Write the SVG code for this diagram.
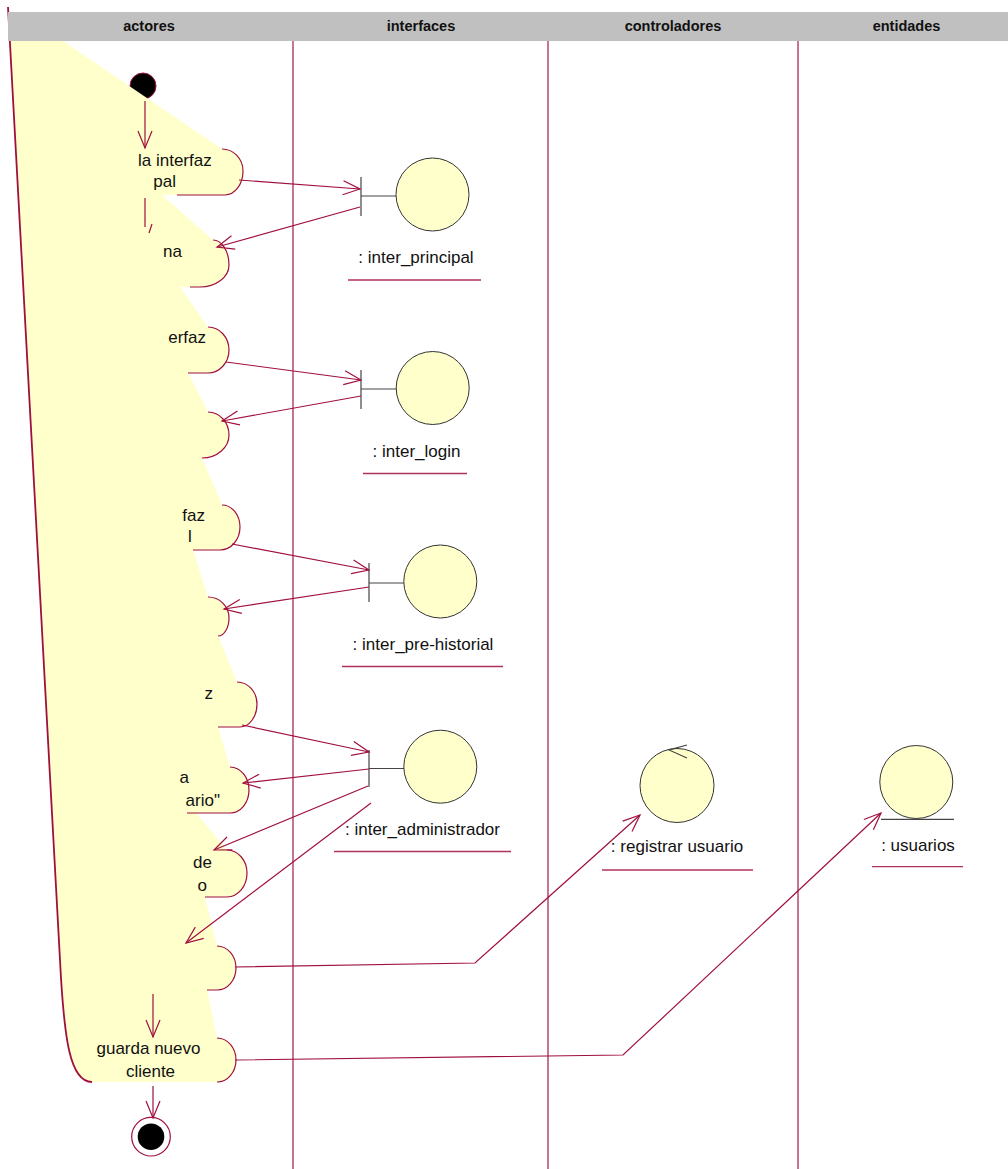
<svg xmlns="http://www.w3.org/2000/svg" width="1008" height="1169" viewBox="0 0 1008 1169">
<style>
.lane{stroke:#B5466E;stroke-width:1.5;fill:none}
.hdr{font-family:"Liberation Sans",Arial,sans-serif;font-size:14.5px;font-weight:bold;fill:#111;text-anchor:middle}
.t{font-family:"Liberation Sans",Arial,sans-serif;font-size:17px;fill:#111}
.m{text-anchor:middle}
.e{text-anchor:end}
.bump{fill:#FFFFCC;stroke:#A0103F;stroke-width:1.2}
.bl{stroke:#A0103F;stroke-width:1.2;fill:none}
.obj{fill:#FFFFCC;stroke:#333;stroke-width:1}
.stem{stroke:#444;stroke-width:1.2;fill:none}
.ul{stroke:#B0305E;stroke-width:1.3}
.c{stroke:#A0103F;stroke-width:1.2;fill:none}
.ca{stroke:#A0103F;stroke-width:1.2;fill:none;marker-end:url(#open)}
</style>
<defs>
<marker id="open" markerUnits="userSpaceOnUse" viewBox="-19 -9 21 18" markerWidth="21" markerHeight="18" refX="0" refY="0" orient="auto">
<path d="M-17,-7 L0,0 L-17,7" fill="none" stroke="#A0103F" stroke-width="1.2"/>
</marker>
</defs>
<rect x="0" y="0" width="1008" height="1169" fill="#fff"/>
<g id="lanes">
<line class="lane" x1="293" y1="41" x2="293" y2="1169"/>
<line class="lane" x1="548" y1="41" x2="548" y2="1169"/>
<line class="lane" x1="798" y1="41" x2="798" y2="1169"/>
</g>
<g id="initial">
<circle cx="143" cy="86" r="13" fill="#000" stroke="#A0103F" stroke-width="1"/>
</g>
<g id="actor-lane-fill">
<path fill="#FFFFCC" d="M10,41 L63,41 L222,149 A21,22 0 0 1 243,171 A18,24 0 0 1 225,195 L162,195 L213,240 A16,25 0 0 1 229,265 A29,22 0 0 1 200,287 L180,287 L208,327 A21,23 0 0 1 229,350 A21,23 0 0 1 208,373 L188,373 L208,412 A21,23 0 0 1 229,435 A27,23 0 0 1 202,458 L222,505 A18,22 0 0 1 240,527 A20,23 0 0 1 220,550 L193,550 L208,597 A21,21 0 0 1 229,618 A11,18 0 0 1 218,636 L237,682 A20,22 0 0 1 257,704 A17,23 0 0 1 240,727 L218,727 L230,767 A19,23 0 0 1 249,790 A19,23 0 0 1 230,813 L196,813 L227,850 A20,23 0 0 1 247,873 A20,24 0 0 1 227,897 L205,897 L217,946 A19,22 0 0 1 236,968 A19,22 0 0 1 217,990 L207,990 L217,1038 A19,22 0 0 1 236,1060 A19,22 0 0 1 217,1082 L92,1082 C70,1082 64,1040 60,960 Z"/>
<path d="M8,7 L60,960 C64,1040 70,1082 92,1082" fill="none" stroke="#A0103F" stroke-width="1.8"/>
</g>
<g id="act1">
<path class="bl" d="M222,149 A21,22 0 0 1 243,171 A18,24 0 0 1 225,195 L177,195"/>
<text class="t" x="138" y="166">la interfaz</text>
<text class="t e" x="176" y="187">pal</text>
</g>
<g id="act2">
<path class="bl" d="M213,240 A16,25 0 0 1 229,265 A29,22 0 0 1 200,287 L190,287"/>
<text class="t e" x="182" y="257">na</text>
</g>
<g id="act3">
<path class="bl" d="M208,327 A21,23 0 0 1 229,350 A21,23 0 0 1 208,373 L188,373"/>
<text class="t e" x="206" y="343">erfaz</text>
</g>
<g id="act4">
<path class="bl" d="M208,412 A21,23 0 0 1 229,435 A27,23 0 0 1 202,458"/>
</g>
<g id="act5">
<path class="bl" d="M222,505 A18,22 0 0 1 240,527 A20,23 0 0 1 220,550 L193,550"/>
<text class="t e" x="205" y="521">faz</text>
<text class="t" x="188" y="542">l</text>
</g>
<g id="act6">
<path class="bl" d="M208,597 A21,21 0 0 1 229,618 A11,18 0 0 1 218,636"/>
</g>
<g id="act7">
<path class="bl" d="M237,682 A20,22 0 0 1 257,704 A17,23 0 0 1 240,727 L218,727"/>
<text class="t e" x="213" y="699">z</text>
</g>
<g id="act8">
<path class="bl" d="M230,767 A19,23 0 0 1 249,790 A19,23 0 0 1 230,813 L187,813"/>
<text class="t e" x="189" y="783">a</text>
<text class="t e" x="220" y="806">ario"</text>
</g>
<g id="act9">
<path class="bl" d="M227,850 A20,23 0 0 1 247,873 A20,24 0 0 1 227,897 L205,897"/>
<text class="t e" x="212" y="868">de</text>
<text class="t e" x="207" y="891">o</text>
</g>
<g id="act10">
<path class="bl" d="M217,946 A19,22 0 0 1 236,968 A19,22 0 0 1 217,990 L207,990"/>
</g>
<g id="act11">
<path class="bl" d="M217,1038 A19,22 0 0 1 236,1060 A19,22 0 0 1 217,1082"/>
<text class="t m" x="148.5" y="1054">guarda nuevo</text>
<text class="t m" x="150.5" y="1077">cliente</text>
</g>
<g id="inter_principal">
<line class="stem" x1="361" y1="177" x2="361" y2="216"/>
<line class="stem" x1="361" y1="196" x2="396" y2="196"/>
<circle class="obj" cx="432.5" cy="194.5" r="36.5"/>
<text class="t m" x="416" y="263">: inter_principal</text>
<line class="ul" x1="348" y1="280" x2="481" y2="280"/>
</g>
<g id="inter_login">
<line class="stem" x1="361" y1="370" x2="361" y2="409"/>
<line class="stem" x1="361" y1="389" x2="396" y2="389"/>
<circle class="obj" cx="432.7" cy="388" r="36.5"/>
<text class="t m" x="416.5" y="457">: inter_login</text>
<line class="ul" x1="363" y1="473.5" x2="467" y2="473.5"/>
</g>
<g id="inter_pre-historial">
<line class="stem" x1="369" y1="563" x2="369" y2="602"/>
<line class="stem" x1="369" y1="583" x2="404" y2="583"/>
<circle class="obj" cx="440.3" cy="581.5" r="36.5"/>
<text class="t m" x="423" y="650">: inter_pre-historial</text>
<line class="ul" x1="342" y1="666.5" x2="503" y2="666.5"/>
</g>
<g id="inter_administrador">
<line class="stem" x1="369" y1="750" x2="369" y2="787"/>
<line class="stem" x1="369" y1="768.5" x2="404" y2="768.5"/>
<circle class="obj" cx="440.3" cy="766.7" r="36.5"/>
<text class="t m" x="422.5" y="835">: inter_administrador</text>
<line class="ul" x1="334" y1="851.5" x2="511" y2="851.5"/>
</g>
<g id="registrar_usuario">
<circle class="obj" cx="677" cy="785.5" r="37"/>
<path class="stem" d="M687,745 L669,750 L687,758"/>
<text class="t m" x="677" y="852">: registrar usuario</text>
<line class="ul" x1="602" y1="870" x2="753" y2="870"/>
</g>
<g id="usuarios">
<circle class="obj" cx="916.3" cy="782" r="36.5"/>
<line class="stem" x1="881" y1="819.3" x2="954" y2="819.3"/>
<text class="t m" x="918" y="851">: usuarios</text>
<line class="ul" x1="872" y1="866.7" x2="963" y2="866.7"/>
</g>
<g id="final">
<circle cx="151" cy="1136.7" r="19.3" fill="#fff" stroke="#A0103F" stroke-width="1.2"/>
<circle cx="151" cy="1136.7" r="13.3" fill="#000"/>
</g>
<g id="connectors">
<path class="ca" d="M145,101 L145,148"/>
<path class="c" d="M145,198 L145,227 M152,224 L149,233"/>
<path class="ca" d="M239,180 L360,189"/>
<path class="ca" d="M360,207 L217,247"/>
<path class="ca" d="M226,362 L361,380"/>
<path class="ca" d="M361,396 L222,421"/>
<path class="ca" d="M232,544 L369,570"/>
<path class="ca" d="M369,587 L224,609"/>
<path class="ca" d="M242,725 L369,752"/>
<path class="ca" d="M369,769 L243,783"/>
<path class="ca" d="M368,786 L214,850"/>
<path class="ca" d="M371,803 L186,943"/>
<path class="ca" d="M235,967 L475,963 L640,815"/>
<path class="ca" d="M235,1060 L623,1055 L881,813"/>
<path class="ca" d="M153,994 L153,1037"/>
<path class="ca" d="M153,1086 L153,1118"/>
</g>
<g id="header">
<rect x="8" y="12" width="1000" height="29" fill="#C0C0C0"/>
<text class="hdr" x="149" y="31">actores</text>
<text class="hdr" x="421" y="31">interfaces</text>
<text class="hdr" x="673" y="31">controladores</text>
<text class="hdr" x="906.5" y="31">entidades</text>
</g>
</svg>
